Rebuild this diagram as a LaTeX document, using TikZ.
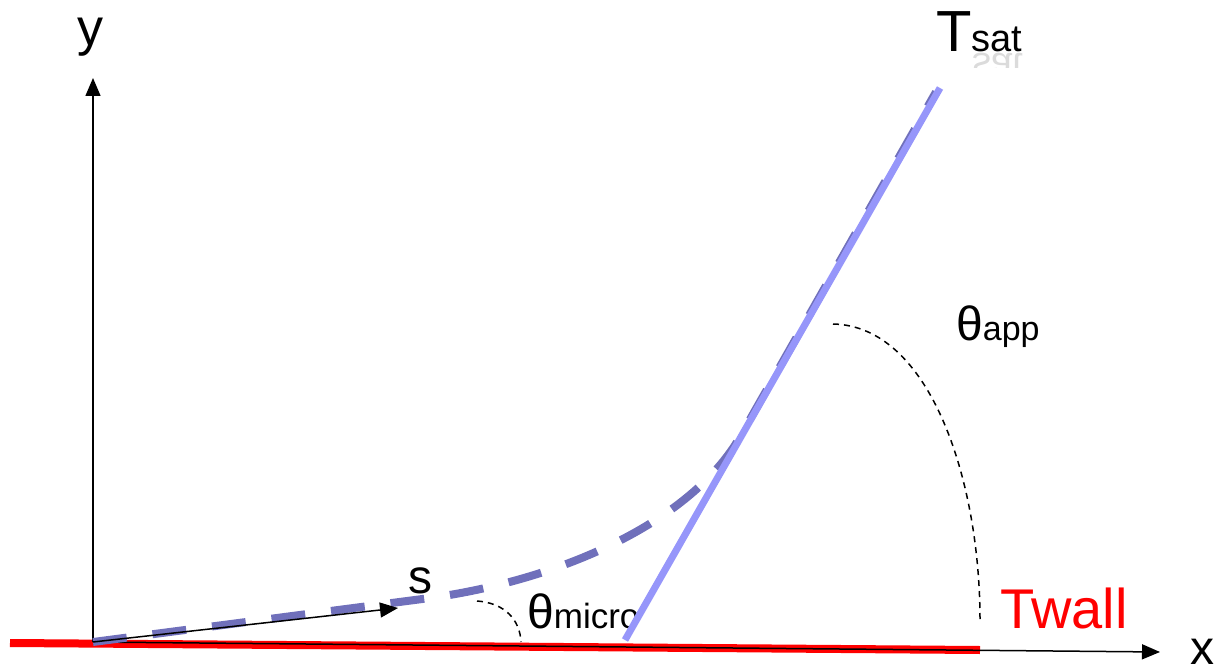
\documentclass[tikz,border=0pt]{standalone}
\usepackage{fontspec}
\setmainfont{Liberation Sans}
\usetikzlibrary{arrows.meta}
\definecolor{wallred}{RGB}{255,0,0}
\definecolor{curveblue}{RGB}{112,112,187}
\definecolor{lineblue}{RGB}{150,150,250}
\newcommand{\fs}[1]{\fontsize{#1bp}{#1bp}\selectfont}
\tikzset{
  axis/.style={line width=1.5bp,-{Triangle[length=18bp,width=15bp]}},
  anglearc/.style={line width=1.5bp,dash pattern=on 6bp off 5bp},
  lbl/.style={inner sep=0pt,anchor=base west}
}
\begin{document}
\begin{tikzpicture}[x=1bp,y=-1bp]
\useasboundingbox (0,0) rectangle (1218,672);
% coordinates
\coordinate (O) at (93,642);
\coordinate (ytip) at (93,78);
\coordinate (xtip) at (1160,652);
\coordinate (stip) at (398,608);
\coordinate (wallL) at (10,643);
\coordinate (wallR) at (980,650);
\coordinate (lineB) at (625,640);
\coordinate (lineT) at (940,88);
% labels
\node[lbl] (ylab) at (77,46) {\fs{52}y};
\node[lbl] (xlab) at (1190,664) {\fs{48}x};
\node[lbl] (slab) at (408,593) {\fs{48}s};
\node[lbl,text=wallred] (twall) at (1000,628) {\fs{56}Twall};
\node[lbl] (tsat) at (936,52) {\fs{58}T\fs{38}sat};
\begin{scope}
  \clip (960,53) rectangle (1030,68);
  \node[lbl,yscale=-1,text=black!14] (tsatrefl) at (972,54) {\fs{38}sat};
\end{scope}
\node[lbl] (thmicro) at (527,628) {\fs{48}θ\fs{35}micro};
\node[lbl] (thapp) at (956,340) {\fs{48}θ\fs{34}app};
% wall
\draw[wallred,line width=8bp] (wallL) -- (wallR);
% axes
\draw[axis] (O) -- (ytip);
\draw[axis] (O) -- (xtip);
% interface curve
\draw[curveblue,line width=8bp,dash pattern=on 34bp off 26bp]
  (O) -- (430,598) .. controls (560,580) and (690,523) .. (740,437) -- (936,92);
% s arrow
\draw[axis] (O) -- (stip);
% apparent contact line
\draw[lineblue,line width=7bp] (lineB) -- (lineT);
% angle arcs
\draw[anglearc] (477,601) .. controls (505,603) and (520,620) .. (521,642);
\draw[anglearc] (833,324) .. controls (930,326) and (980,480) .. (980,620);
\end{tikzpicture}
\end{document}
